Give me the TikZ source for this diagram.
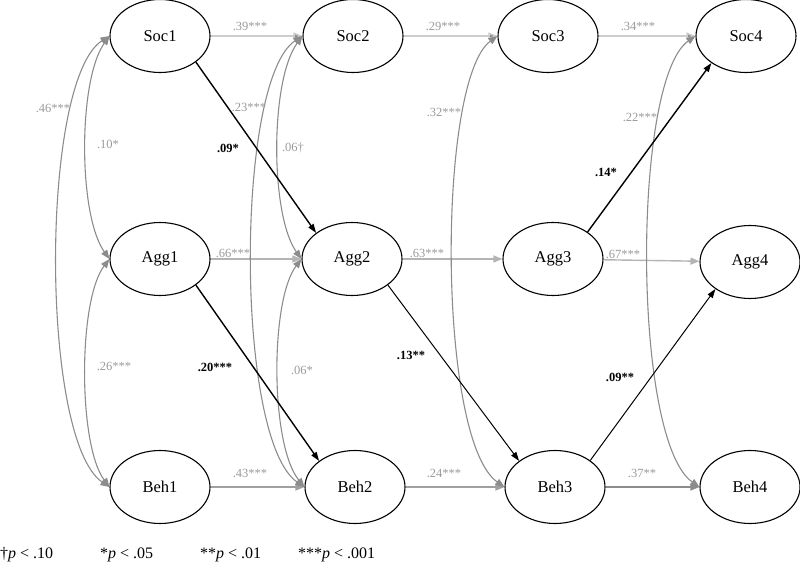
\documentclass[tikz,border=0pt]{standalone}
\usepackage{fontspec}
\setmainfont{Liberation Serif}
\usetikzlibrary{arrows.meta,shapes.geometric}
\definecolor{lblgray}{HTML}{9A9A9A}
\definecolor{covgray}{HTML}{8C8C8C}
\definecolor{socgray}{HTML}{CDCDCD}
\definecolor{agggray}{HTML}{B4B4B4}
\definecolor{behgray}{HTML}{A0A0A0}
\begin{document}
\begin{tikzpicture}[x=1pt,y=-1pt,
  lat/.style={ellipse,draw,line width=1.1pt,minimum width=100pt,minimum height=73pt,inner sep=0pt,font=\fontsize{16.5}{19}\selectfont},
  glbl/.style={text=lblgray,inner sep=0pt,font=\fontsize{12.5}{14}\selectfont},
  blbl/.style={text=black,inner sep=0pt,font=\fontsize{12.5}{14}\selectfont\bfseries},
  legend/.style={anchor=west,inner sep=0pt,font=\fontsize{16}{18}\selectfont},
  hor/.style={line width=1.4pt},
  cov/.style={draw=covgray,line width=1.1pt,{Triangle[length=9pt,width=7pt,fill=covgray]}-{Triangle[length=9pt,width=7pt,fill=covgray]}},
  cross/.style={draw=black,line width=1.4pt,-{Triangle[length=9pt,width=6pt]}},
  crossthin/.style={draw=black,line width=1pt,-{Triangle[length=9pt,width=6pt]}}]
\useasboundingbox (0,0) rectangle (800,564);
% latent nodes
\node[lat] (s1) at (160,36) {Soc1};
\node[lat] (a1) at (160,259) {Agg1};
\node[lat] (b1) at (160,487) {Beh1};
\node[lat] (s2) at (353,36) {Soc2};
\node[lat] (a2) at (352,259) {Agg2};
\node[lat] (b2) at (355,487) {Beh2};
\node[lat] (s3) at (548,36) {Soc3};
\node[lat] (a3) at (553,259) {Agg3};
\node[lat] (b3) at (555,487) {Beh3};
\node[lat] (s4) at (746,36) {Soc4};
\node[lat] (a4) at (750,262) {Agg4};
\node[lat] (b4) at (750,487) {Beh4};
% autoregressive paths
\draw[hor,draw=socgray,arrows={-Triangle[length=9pt,width=7pt,fill=covgray]}] (s1) -- (s2);
\draw[hor,draw=socgray,arrows={-Triangle[length=9pt,width=7pt,fill=covgray]}] (s2) -- (s3);
\draw[hor,draw=socgray,arrows={-Triangle[length=9pt,width=7pt,fill=covgray]}] (s3) -- (s4);
\draw[hor,draw=agggray,arrows={-Triangle[length=9pt,width=7pt,fill=agggray]}] (a1) -- (a2);
\draw[hor,draw=agggray,arrows={-Triangle[length=9pt,width=7pt,fill=agggray]}] (a2) -- (a3);
\draw[hor,draw=agggray,arrows={-Triangle[length=9pt,width=7pt,fill=agggray]}] (a3) -- (a4);
\draw[hor,draw=behgray,arrows={-Triangle[length=9pt,width=7pt,fill=behgray]}] (b1) -- (b2);
\draw[hor,draw=behgray,arrows={-Triangle[length=9pt,width=7pt,fill=behgray]}] (b2) -- (b3);
\draw[hor,draw=covgray,arrows={-Triangle[length=9pt,width=7pt,fill=covgray]}] (b3) -- (b4);
% covariances
\draw[cov] (s1.west) .. controls (40,80) and (40,440) .. (b1.west);
\draw[cov] (s1.west) .. controls (78,80) and (78,215) .. (a1.west);
\draw[cov] (a1.west) .. controls (78,300) and (78,445) .. (b1.west);
\draw[cov] (s2.west) .. controls (235,80) and (235,440) .. (b2.west);
\draw[cov] (s2.west) .. controls (270,80) and (270,215) .. (a2.west);
\draw[cov] (a2.west) .. controls (270,300) and (270,445) .. (b2.west);
\draw[cov] (s3.west) .. controls (437,80) and (437,440) .. (b3.west);
\draw[cov] (s4.west) .. controls (632,80) and (632,440) .. (b4.west);
% cross-lagged paths
\draw[cross] (s1.-36) -- (a2.144);
\draw[cross] (a1.-36) -- (b2.144);
\draw[crossthin] (a2.-36) -- (b3.144);
\draw[cross] (a3.38) -- (s4.-142);
\draw[crossthin] (b3.37) -- (a4.-142);
% gray labels
\node[glbl] (l1) at (250,26) {.39***};
\node[glbl] (l2) at (443,26) {.29***};
\node[glbl] (l3) at (638,26) {.34***};
\node[glbl] (l4) at (233,253) {.66***};
\node[glbl] (l5) at (427,253) {.63***};
\node[glbl] (l6) at (623,254) {.67***};
\node[glbl] (l7) at (250,473) {.43***};
\node[glbl] (l8) at (444,473) {.24***};
\node[glbl] (l9) at (642,473) {.37**};
\node[glbl] (l10) at (53,108) {.46***};
\node[glbl] (l11) at (108,144) {.10*};
\node[glbl] (l12) at (114,366) {.26***};
\node[glbl] (l13) at (249,107) {.23***};
\node[glbl] (l14) at (293,148) {.06†};
\node[glbl] (l15) at (302,370) {.06*};
\node[glbl] (l16) at (444,112) {.32***};
\node[glbl] (l17) at (640,117) {.22***};
% bold labels
\node[blbl] (m1) at (228,148) {.09*};
\node[blbl] (m2) at (215,367) {.20***};
\node[blbl] (m3) at (411,355) {.13**};
\node[blbl] (m4) at (606,172) {.14*};
\node[blbl] (m5) at (620,377) {.09**};
% legend
\node[legend] (g1) at (0,555) {†\textit{p} < .10};
\node[legend] (g2) at (100,555) {*\textit{p} < .05};
\node[legend] (g3) at (200,555) {**\textit{p} < .01};
\node[legend] (g4) at (298,555) {***\textit{p} < .001};
\end{tikzpicture}
\end{document}
